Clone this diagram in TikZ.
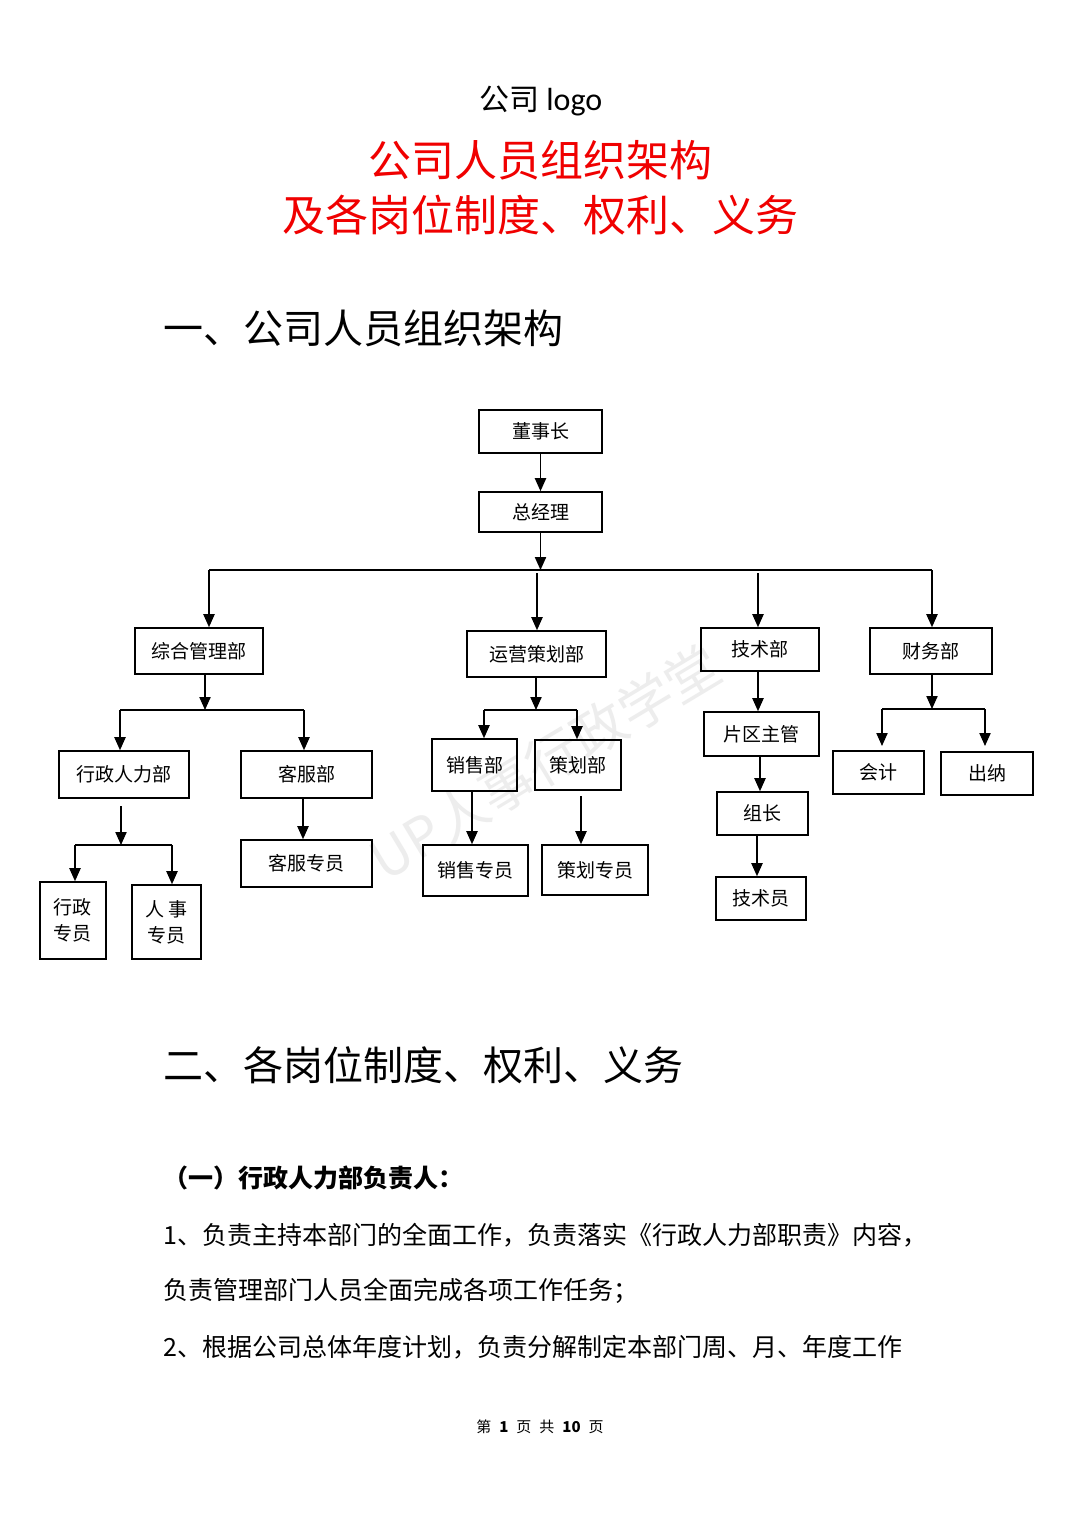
\documentclass[tikz,border=0pt]{standalone}
\usepackage{fontspec}
\usetikzlibrary{arrows.meta}
\newfontfamily\cjk{Noto Sans CJK SC}
\newfontfamily\lat{Carlito}
\begin{document}
\begin{tikzpicture}[x=0.5pt,y=-0.5pt,
  box/.style={draw=black,line width=0.8pt,inner sep=0pt,font=\cjk\fontsize{9.5pt}{13pt}\selectfont,align=center},
  arr/.style={line width=0.75pt,-{Triangle[length=6.5pt,width=5.6pt]}},
  ln/.style={line width=0.75pt},
  body/.style={anchor=west,inner sep=0pt,font=\cjk\fontsize{12.5pt}{14pt}\selectfont}]
\useasboundingbox[fill=white] (0,0) rectangle (1080,1527);

% watermark
\node[rotate=31,text=black!7,font=\cjk\fontsize{27pt}{27pt}\selectfont] (wm) at (545,762) {UP人事行政学堂};

% titles
\node[font=\cjk\fontsize{15pt}{18pt}\selectfont] (logo) at (541,101) {公司 {\lat\fontsize{16pt}{18pt}\selectfont logo}};
\node[text={rgb,255:red,240;green,0;blue,0},font=\cjk\fontsize{21.5pt}{26pt}\selectfont] (t1) at (540,160) {公司人员组织架构};
\node[text={rgb,255:red,240;green,0;blue,0},font=\cjk\fontsize{21.5pt}{26pt}\selectfont] (t2) at (540,215) {及各岗位制度、权利、义务};
\node[anchor=west,inner sep=0pt,font=\cjk\fontsize{20pt}{24pt}\selectfont] (h1) at (163,328) {一、公司人员组织架构};
\node[anchor=west,inner sep=0pt,font=\cjk\fontsize{20pt}{24pt}\selectfont] (h2) at (163,1065) {二、各岗位制度、权利、义务};

% boxes
\node[box,minimum width=61.5pt,minimum height=21.5pt] (dsz) at (540.5,431.5) {董事长};
\node[box,minimum width=61.5pt,minimum height=20pt] (zjl) at (540.5,512) {总经理};
\node[box,minimum width=64pt,minimum height=23pt] (zh) at (199,651) {综合管理部};
\node[box,minimum width=69.5pt,minimum height=23pt] (yy) at (536.5,654) {运营策划部};
\node[box,minimum width=59pt,minimum height=21.5pt] (js) at (760,649.5) {技术部};
\node[box,minimum width=61pt,minimum height=23pt] (cw) at (931,651) {财务部};
\node[box,minimum width=65pt,minimum height=23.5pt] (xz) at (124,774.5) {行政人力部};
\node[box,minimum width=65.5pt,minimum height=23.5pt] (kf) at (306.5,774.5) {客服部};
\node[box,minimum width=65.5pt,minimum height=23.5pt] (kfzy) at (306.5,863.5) {客服专员};
\node[box,minimum width=33pt,minimum height=38.5pt] (xzzy) at (73,920.5) {行政\\专员};
\node[box,minimum width=34.5pt,minimum height=37pt] (rszy) at (166.5,922) {人 事\\专员};
\node[box,minimum width=42.5pt,minimum height=26pt] (xs) at (474.5,765) {销售部};
\node[box,minimum width=43pt,minimum height=25pt] (ch) at (578,765) {策划部};
\node[box,minimum width=52.5pt,minimum height=25.5pt] (xszy) at (475.5,870.5) {销售专员};
\node[box,minimum width=53pt,minimum height=25pt] (chzy) at (595,870) {策划专员};
\node[box,minimum width=57.5pt,minimum height=22pt] (pq) at (761.5,734) {片区主管};
\node[box,minimum width=45.5pt,minimum height=21.5pt] (zz) at (762.5,813.5) {组长};
\node[box,minimum width=45pt,minimum height=21.5pt] (jsy) at (761,898.5) {技术员};
\node[box,minimum width=45.5pt,minimum height=21.5pt] (kj) at (878.5,772.5) {会计};
\node[box,minimum width=46pt,minimum height=21.5pt] (cn) at (987,773.5) {出纳};

% top connectors
\draw[arr] (dsz) -- (zjl);
\coordinate (bus) at (540.5,570);
\coordinate (bl) at (209,570);
\coordinate (br) at (932,570);
\draw[arr] (zjl) -- (bus);
\draw[ln] (bl) -- (br);
\draw[arr] (bl) -- (bl |- zh.north);
\draw[arr] (537,573) -- (yy.north -| 537,0);
\draw[arr] (758,573) -- (js.north -| 758,0);
\draw[arr] (br) -- (br |- cw.north);

% 综合管理部
\coordinate (z0) at (205,710);
\coordinate (zl) at (120,710);
\coordinate (zr) at (304,710);
\draw[arr] (zh.south -| z0) -- (z0);
\draw[ln] (zl) -- (zr);
\draw[arr] (zl) -- (xz.north -| zl);
\draw[arr] (zr) -- (kf.north -| zr);
\draw[arr] (kf.south -| 303,0) -- (kfzy.north -| 303,0);
\coordinate (x0) at (121,845);
\coordinate (xl) at (75,845);
\coordinate (xr) at (172,845);
\draw[arr] (121,806) -- (x0);
\draw[ln] (xl) -- (xr);
\draw[arr] (xl) -- (xzzy.north -| xl);
\draw[arr] (xr) -- (rszy.north -| xr);

% 运营策划部
\coordinate (y0) at (536,710);
\coordinate (yl) at (484,710);
\coordinate (yr) at (577,710);
\draw[arr] (yy.south -| y0) -- (y0);
\draw[ln] (yl) -- (yr);
\draw[arr] (yl) -- (xs.north -| yl);
\draw[arr] (yr) -- (ch.north -| yr);
\draw[arr] (xs.south -| 472,0) -- (xszy.north -| 472,0);
\draw[arr] (581,796) -- (chzy.north -| 581,0);

% 技术部
\draw[arr] (js.south -| 758,0) -- (pq.north -| 758,0);
\draw[arr] (pq.south -| 760,0) -- (zz.north -| 760,0);
\draw[arr] (zz.south -| 757,0) -- (jsy.north -| 757,0);

% 财务部
\coordinate (c0) at (932,709);
\coordinate (cl) at (882,709);
\coordinate (cr) at (985,709);
\draw[arr] (cw.south -| c0) -- (c0);
\draw[ln] (cl) -- (cr);
\draw[arr] (cl) -- (882,746);
\draw[arr] (cr) -- (985,746);

% body text
\node[anchor=west,inner sep=0pt,font=\cjk\bfseries\fontsize{12.5pt}{14pt}\selectfont] (s1) at (163,1178) {（一）行政人力部负责人：};
\node[body] (p1) at (163,1235) {1、负责主持本部门的全面工作，负责落实《行政人力部职责》内容，};
\node[body] (p2) at (163,1291) {负责管理部门人员全面完成各项工作任务；};
\node[body] (p3) at (163,1347) {2、根据公司总体年度计划，负责分解制定本部门周、月、年度工作};
\node[font=\cjk\fontsize{7.5pt}{9pt}\selectfont] (pg) at (540,1427) {第\hspace{4pt}\textbf{1}\hspace{4pt}页\hspace{4pt}共\hspace{4pt}\textbf{10}\hspace{4pt}页};
\end{tikzpicture}
\end{document}
